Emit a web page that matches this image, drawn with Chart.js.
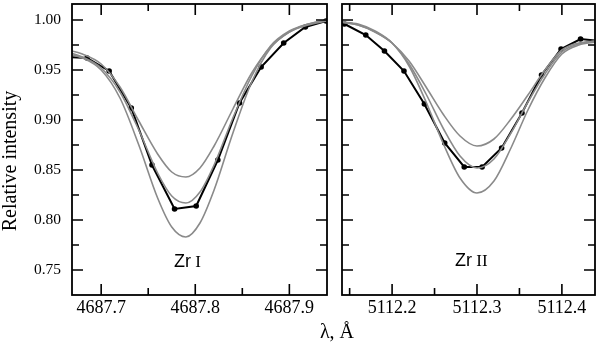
<!DOCTYPE html>
<html>
<head>
<meta charset="utf-8">
<script src="https://cdn.jsdelivr.net/npm/chart.js@4/dist/chart.umd.min.js"></script>
<style>
  html, body { margin: 0; padding: 0; background: #fff; }
  #wrap { position: relative; width: 600px; height: 342px; overflow: hidden; background: #fff; }
  canvas { position: absolute; top: 0; }
  .lbl { position: absolute; white-space: nowrap; color: #000; }
</style>
</head>
<body>
<div id="wrap">
  <canvas id="c1" width="335" height="342" style="left:0;width:335px;height:342px"></canvas>
  <canvas id="c2" width="265" height="342" style="left:335px;width:265px;height:342px"></canvas>
  <div class="lbl" id="ytitle" style="left:-90px;top:149px;width:200px;height:24px;line-height:24px;text-align:center;font:20px 'Liberation Serif';transform:rotate(-90deg);">Relative intensity</div>
  <div class="lbl" style="left:287px;top:320px;width:100px;line-height:20px;text-align:center;font:20px 'Liberation Serif';">λ, Å</div>
  <div class="lbl" style="left:174px;top:251px;line-height:20px;"><span style="font:18px 'Liberation Sans'">Zr</span><span style="font:17px 'Liberation Serif'"> I</span></div>
  <div class="lbl" style="left:455px;top:250px;line-height:20px;"><span style="font:18px 'Liberation Sans'">Zr</span><span style="font:17px 'Liberation Serif'"> II</span></div>
</div>
<script>
// ---- Axis ticks ----
const yTicks = [0.75, 0.80, 0.85, 0.90, 0.95, 1.00];
const yMinorTicks = [0.775, 0.825, 0.875, 0.925, 0.975];
const leftXTicks = [4687.7, 4687.8, 4687.9];
const leftXMinorTicks = [4687.75, 4687.85];
const rightXTicks = [5112.2, 5112.3, 5112.4];
const rightXMinorTicks = [5112.15, 5112.25, 5112.35];

// ---- Zr I (left panel) ----
const leftObsX = [4687.662, 4687.685, 4687.7085, 4687.732, 4687.754, 4687.778, 4687.801, 4687.824, 4687.847, 4687.870, 4687.894, 4687.917, 4687.939];
const leftObsY = [0.963, 0.962, 0.949, 0.912, 0.855, 0.811, 0.814, 0.860, 0.917, 0.953, 0.977, 0.993, 0.999];
const leftModelX = [4687.66, 4687.68, 4687.70, 4687.72, 4687.74, 4687.76, 4687.775, 4687.79, 4687.805, 4687.82, 4687.84, 4687.86, 4687.88, 4687.90, 4687.92, 4687.94];
const leftShallow = [0.971, 0.966, 0.956, 0.933, 0.899, 0.866, 0.848, 0.843, 0.852, 0.874, 0.911, 0.947, 0.973, 0.988, 0.995, 0.999];
const leftMiddle  = [0.969, 0.963, 0.952, 0.928, 0.890, 0.847, 0.824, 0.817, 0.828, 0.855, 0.902, 0.944, 0.974, 0.989, 0.996, 1.000];
const leftDeep    = [0.967, 0.962, 0.950, 0.922, 0.875, 0.822, 0.793, 0.783, 0.797, 0.830, 0.887, 0.938, 0.972, 0.988, 0.996, 1.000];

// ---- Zr II (right panel) ----
const rightObsX = [5112.144, 5112.169, 5112.191, 5112.214, 5112.238, 5112.262, 5112.285, 5112.306, 5112.329, 5112.353, 5112.376, 5112.399, 5112.422, 5112.445];
const rightObsY = [0.996, 0.985, 0.969, 0.949, 0.916, 0.877, 0.853, 0.853, 0.872, 0.907, 0.945, 0.971, 0.981, 0.979];
const rightModelX = [5112.14, 5112.16, 5112.18, 5112.20, 5112.22, 5112.24, 5112.26, 5112.28, 5112.30, 5112.32, 5112.34, 5112.36, 5112.38, 5112.40, 5112.42, 5112.44];
const rightShallow = [0.998, 0.995, 0.988, 0.977, 0.959, 0.933, 0.906, 0.884, 0.874, 0.881, 0.901, 0.925, 0.950, 0.970, 0.977, 0.979];
const rightMiddle  = [0.998, 0.995, 0.988, 0.977, 0.956, 0.926, 0.892, 0.864, 0.852, 0.861, 0.887, 0.918, 0.946, 0.968, 0.976, 0.979];
const rightDeep    = [0.998, 0.996, 0.989, 0.977, 0.954, 0.918, 0.877, 0.842, 0.827, 0.839, 0.872, 0.910, 0.942, 0.966, 0.975, 0.978];

const GRAY = '#8a8a8a';
const SERIF = "'Liberation Serif', 'Times New Roman', serif";
const pts = (xs, ys) => xs.map((x, i) => ({x, y: ys[i]}));

const framePlugin = {
  id: 'frame',
  afterDatasetsDraw(chart, args, o) {
    const {ctx, chartArea: a} = chart;
    const x = chart.scales.x, y = chart.scales.y;
    ctx.save();
    ctx.strokeStyle = '#000';
    ctx.lineWidth = 1.6;
    ctx.beginPath();
    const t = (px, py, dx, dy) => { ctx.moveTo(px, py); ctx.lineTo(px + dx, py + dy); };
    o.xMajor.forEach(v => { const p = x.getPixelForValue(v); t(p, a.bottom, 0, -11); t(p, a.top, 0, 11); });
    o.xMinor.forEach(v => { const p = x.getPixelForValue(v); t(p, a.bottom, 0, -7); t(p, a.top, 0, 7); });
    o.yMajor.forEach(v => { const p = y.getPixelForValue(v); t(a.left, p, 11, 0); t(a.right, p, -11, 0); });
    o.yMinor.forEach(v => { const p = y.getPixelForValue(v); t(a.left, p, 7, 0); t(a.right, p, -7, 0); });
    ctx.stroke();
    ctx.lineWidth = 1.8;
    ctx.strokeRect(a.left, a.top, a.right - a.left, a.bottom - a.top);
    ctx.restore();
  }
};

function makeChart(id, cfg) {
  const ds = [
    {data: pts(cfg.mx, cfg.s), borderColor: GRAY, borderWidth: 1.6, pointRadius: 0, cubicInterpolationMode: 'monotone', clip: 0},
    {data: pts(cfg.mx, cfg.m), borderColor: GRAY, borderWidth: 1.6, pointRadius: 0, cubicInterpolationMode: 'monotone', clip: 0},
    {data: pts(cfg.mx, cfg.d), borderColor: GRAY, borderWidth: 1.6, pointRadius: 0, cubicInterpolationMode: 'monotone', clip: 0},
    {data: pts(cfg.ox, cfg.oy), borderColor: '#000', borderWidth: 2, pointRadius: 2.8, pointBackgroundColor: '#000', pointBorderWidth: 0, tension: 0, clip: 0}
  ];
  return new Chart(document.getElementById(id), {
    type: 'line',
    data: {datasets: ds},
    options: {
      responsive: false,
      animation: false,
      events: [],
      layout: {padding: cfg.padding},
      plugins: {
        legend: {display: false},
        tooltip: {enabled: false},
        frame: {xMajor: cfg.xt, xMinor: cfg.xmt, yMajor: yTicks, yMinor: yMinorTicks}
      },
      scales: {
        x: {
          type: 'linear', min: cfg.xmin, max: cfg.xmax,
          grid: {display: false, drawTicks: false},
          border: {display: false},
          afterBuildTicks: s => { s.ticks = cfg.xt.map(v => ({value: v})); },
          afterFit: s => { s.height = 47; s.paddingLeft = 0; s.paddingRight = 0; },
          ticks: {
            autoSkip: false, maxRotation: 0, padding: 2, color: '#000',
            font: {family: SERIF, size: 18},
            callback: v => v.toFixed(1)
          }
        },
        y: {
          type: 'linear', min: 0.725, max: 1.016, display: cfg.showY,
          grid: {display: false, drawTicks: false},
          border: {display: false},
          afterBuildTicks: s => { s.ticks = yTicks.map(v => ({value: v})); },
          afterFit: s => { s.width = cfg.showY ? 72 : 0; s.paddingTop = 0; s.paddingBottom = 0; },
          ticks: {
            padding: 11, color: '#000',
            font: {family: SERIF, size: 15.5},
            callback: v => v.toFixed(2)
          }
        }
      }
    },
    plugins: [framePlugin]
  });
}

makeChart('c1', {
  mx: leftModelX, s: leftShallow, m: leftMiddle, d: leftDeep, ox: leftObsX, oy: leftObsY,
  xmin: 4687.669, xmax: 4687.940, xt: leftXTicks, xmt: leftXMinorTicks,
  showY: true, padding: {left: 0, right: 8, top: 4, bottom: 0}
});
makeChart('c2', {
  mx: rightModelX, s: rightShallow, m: rightMiddle, d: rightDeep, ox: rightObsX, oy: rightObsY,
  xmin: 5112.141, xmax: 5112.439, xt: rightXTicks, xmt: rightXMinorTicks,
  showY: false, padding: {left: 7, right: 5, top: 4, bottom: 0}
});
</script>
</body>
</html>
